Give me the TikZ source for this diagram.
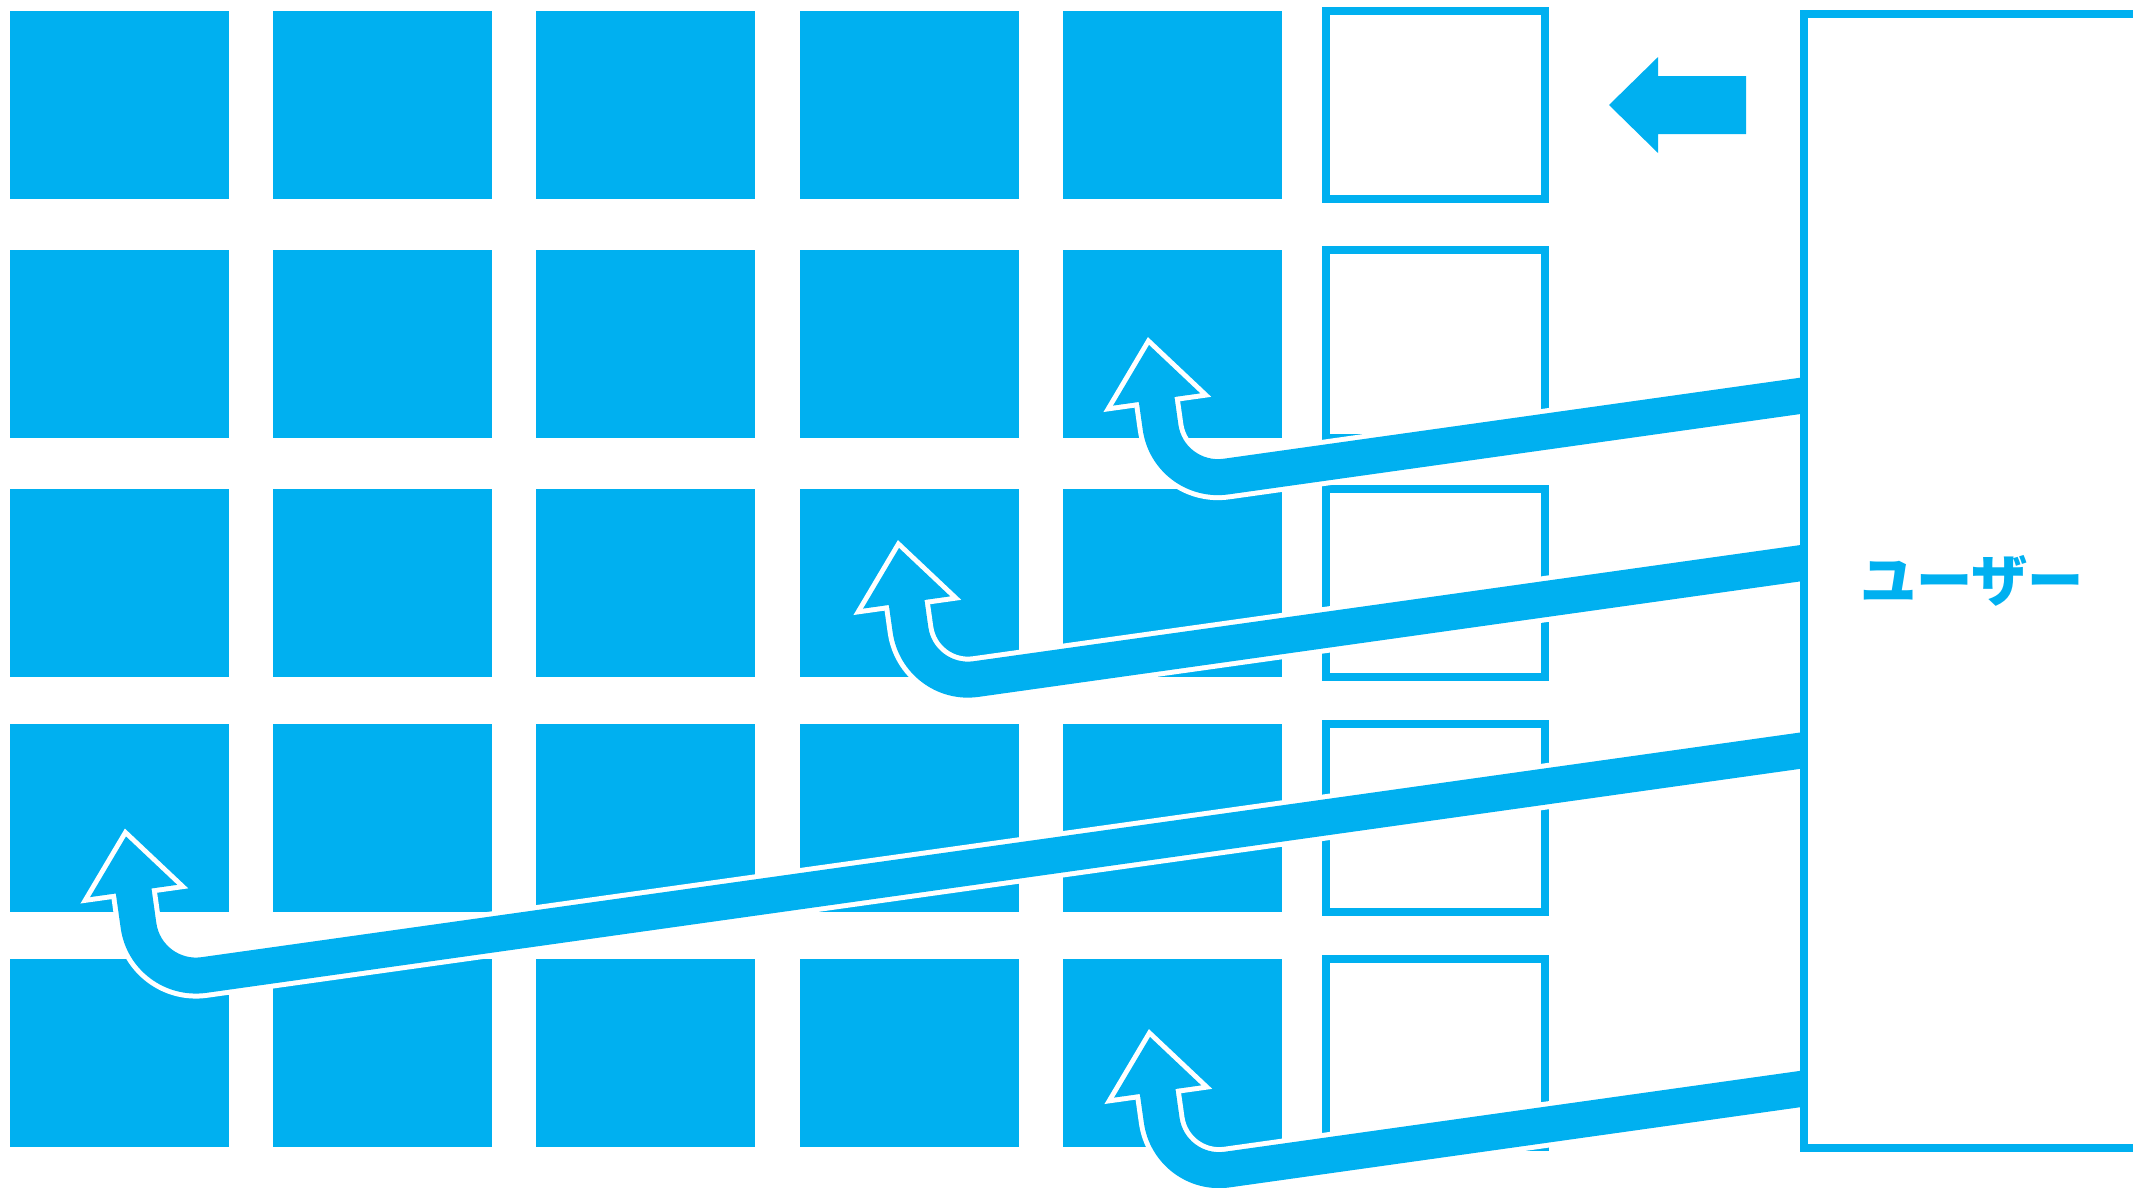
\documentclass[tikz,border=0pt]{standalone}
\usepackage{fontspec}
\newfontfamily\jpfont{Noto Sans CJK JP}
\definecolor{skyblue}{HTML}{00B0F0}
\tikzset{
  cell/.style={fill=skyblue, minimum width=2.19cm, minimum height=1.88cm, inner sep=0pt},
  slot/.style={draw=skyblue, line width=0.08cm, minimum width=2.19cm, minimum height=1.88cm, inner sep=0pt},
  band/.style={fill=skyblue, preaction={draw=white, line width=0.1cm, line join=miter}}
}
% bent band ending in an arrow head: #1 tip, #2 distance tip to band
\newcommand{\bandarrow}[2]{%
  \begin{scope}[shift={#1}, rotate=8]
    \path[band] (0,0) -- (44,55) -- (18,55) -- (18,#2-40) arc (180:90:40)
      -- (1800,#2) -- (1800,#2+36) -- (58,#2+36) arc (90:180:76)
      -- (-18,55) -- (-44,55) -- cycle;
  \end{scope}}

\begin{document}
\begin{tikzpicture}[x=0.01cm, y=-0.01cm]
  \useasboundingbox (0,0) rectangle (2133,1187);

  % Grid of cells and the empty slots
  \foreach \y [count=\r] in {105,344,583,818,1053} {
    \foreach \x [count=\c] in {119.5,382.7,645.9,909.1,1172.3}
      \node[cell] (c\r\c) at (\x,\y) {};
    \node[slot] (s\r) at (1435.5,\y) {};
  }

  % Tips of the bands
  \coordinate (t1) at (1149,345);
  \coordinate (t2) at (899,548);
  \coordinate (t3) at (126,836.5);
  \coordinate (t4) at (1150,1037);

  % Bands from the user
  \begin{scope}
    \clip (0,0) rectangle (1804,1187);
    \bandarrow{(t1)}{123}
    \bandarrow{(t2)}{122.5}
    \bandarrow{(t3)}{130}
    \bandarrow{(t4)}{124}
  \end{scope}

  % User
  \node[draw=skyblue, line width=0.08cm, minimum width=3.36cm, minimum height=11.34cm,
    text=skyblue, font=\jpfont\bfseries\fontsize{16pt}{19pt}\selectfont] (user) at (1972,581) {ユーザー};

  % Arrow into the slots
  \fill[skyblue] (1609,105) -- (1658,57) -- (1658,76) -- (1746,76) -- (1746,134)
    -- (1658,134) -- (1658,153) -- cycle;
\end{tikzpicture}
\end{document}
